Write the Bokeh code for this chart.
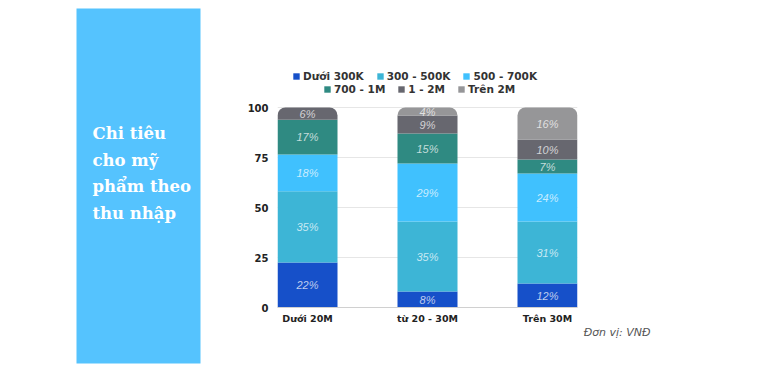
from bokeh.plotting import figure
from bokeh.models import ColumnDataSource, Range1d, FixedTicker, Legend, LegendItem, Title
from bokeh.layouts import row
from bokeh.embed import file_html
from bokeh.resources import INLINE
from bokeh.core.properties import value

# ---------------- data ----------------
categories = ["Dưới 20M", "từ 20 - 30M", "Trên 30M"]
series = ["Dưới 300K", "300 - 500K", "500 - 700K", "700 - 1M", "1 - 2M", "Trên 2M"]
duoi_300k = [22, 8, 12]
k300_500k = [35, 35, 31]
k500_700k = [18, 29, 24]
k700_1m = [17, 15, 7]
m1_2m = [6, 9, 10]
tren_2m = [0, 4, 16]
y_ticks = [0, 25, 50, 75, 100]
colors = ["#1650c9", "#3db5d6", "#40c1fe", "#2f8a82", "#67676f", "#969698"]
title_lines = ["Chi tiêu", "cho mỹ", "phẩm theo", "thu nhập"]
unit_note = "Đơn vị: VNĐ"

values = [duoi_300k, k300_500k, k500_700k, k700_1m, m1_2m, tren_2m]
xs = list(range(len(categories)))
totals = [sum(v[i] for v in values) for i in xs]

body = dict(x=[], bottom=[], top=[], color=[], series=[])
tops = dict(x=[], bottom=[], top=[], color=[], series=[])
lab = dict(x=[], y=[], text=[])
for i in xs:
    acc = 0.0
    last = max(k for k in range(len(series)) if values[k][i] > 0)
    for k in range(len(series)):
        v = values[k][i]
        if v <= 0:
            continue
        h = v / totals[i] * 100.0
        b, t = acc, acc + h
        acc = t
        d = tops if k == last else body
        d["x"].append(i)
        d["bottom"].append(b)
        d["top"].append(t)
        d["color"].append(colors[k])
        d["series"].append(k)
        lab["x"].append(i)
        lab["y"].append((b + t) / 2)
        lab["text"].append(f"{v}%")

# ---------------- left title panel ----------------
left = figure(width=208, height=367, x_range=Range1d(0, 124), y_range=Range1d(355, 0),
              x_axis_type=None, y_axis_type=None, output_backend="svg", toolbar_location=None,
              min_border_left=76, min_border_right=8, min_border_top=8, min_border_bottom=4)
left.frame_align = False
left.grid.visible = False
left.background_fill_color = "#55c3fe"
left.border_fill_color = "white"
left.outline_line_color = None
left.text(x=[16] * len(title_lines), y=[125 + 26.7 * i for i in range(len(title_lines))],
          text=title_lines, text_font=value("DejaVu Serif"), text_font_style="bold",
          text_font_size="16.5px", text_color="white", text_baseline="middle", text_align="left")

# ---------------- chart ----------------
# frame extends above 100 to leave room for the legend rows
p = figure(width=557, height=367, x_range=Range1d(-0.25, 2.25), y_range=Range1d(0, 121.5),
           output_backend="svg", toolbar_location=None,
           min_border_left=69, min_border_right=188, min_border_top=64, min_border_bottom=60)
p.frame_align = False
p.outline_line_color = None
p.border_fill_color = "white"
p.xgrid.visible = False
p.ygrid.grid_line_color = "#e6e6e6"
p.ygrid.ticker = FixedTicker(ticks=y_ticks)

p.yaxis.ticker = FixedTicker(ticks=y_ticks)
p.xaxis.ticker = FixedTicker(ticks=xs)
p.xaxis.major_label_overrides = {i: c for i, c in enumerate(categories)}
for ax in (p.xaxis, p.yaxis):
    ax.major_tick_line_color = None
    ax.minor_tick_line_color = None
    ax.major_tick_out = 0
    ax.major_tick_in = 0
    ax.minor_tick_out = 0
    ax.minor_tick_in = 0
    ax.major_label_text_font = "DejaVu Sans"
    ax.major_label_text_font_style = "bold"
    ax.major_label_text_color = "#222222"
p.yaxis.axis_line_color = None
p.yaxis.major_label_text_font_size = "10px"
p.yaxis.major_label_standoff = 9
p.xaxis.axis_line_color = "#d0d0d0"
p.xaxis.major_label_text_font_size = "9.5px"
p.xaxis.major_label_standoff = 5

r_body = p.vbar(x="x", bottom="bottom", top="top", width=0.5, source=ColumnDataSource(body),
                fill_color="color", line_color=None)
r_tops = p.vbar(x="x", bottom="bottom", top="top", width=0.5, source=ColumnDataSource(tops),
                fill_color="color", line_color=None, border_radius=(8, 8, 0, 0))

p.text(x="x", y="y", text="text", source=ColumnDataSource(lab),
       text_font=value("Liberation Sans"), text_font_style="italic", text_font_size="11px",
       text_color="white", text_alpha=0.72, text_align="center", text_baseline="middle")


def legend_item(k):
    if k in body["series"]:
        return LegendItem(label=series[k], renderers=[r_body], index=body["series"].index(k))
    return LegendItem(label=series[k], renderers=[r_tops], index=tops["series"].index(k))


leg_style = dict(orientation="horizontal", glyph_width=8, glyph_height=8, label_standoff=3,
                 spacing=12, padding=0, margin=0, border_line_color=None,
                 background_fill_alpha=0, label_text_font="DejaVu Sans",
                 label_text_font_style="bold", label_text_font_size="10.5px",
                 label_text_color="#333333", label_height=13)
leg1 = Legend(items=[legend_item(k) for k in range(0, 3)], location=(15, 225), **leg_style)
leg2 = Legend(items=[legend_item(k) for k in range(3, 6)], location=(46, 212), **leg_style)
p.add_layout(leg1)
p.add_layout(leg2)

note = Title(text=unit_note, align="right", offset=-73, text_font="DejaVu Sans",
             text_font_style="italic", text_font_size="11px", text_color="#555555",
             standoff=-5)
p.add_layout(note, "below")

layout = row(left, p)
open("out.html", "w").write(file_html(layout, INLINE))
